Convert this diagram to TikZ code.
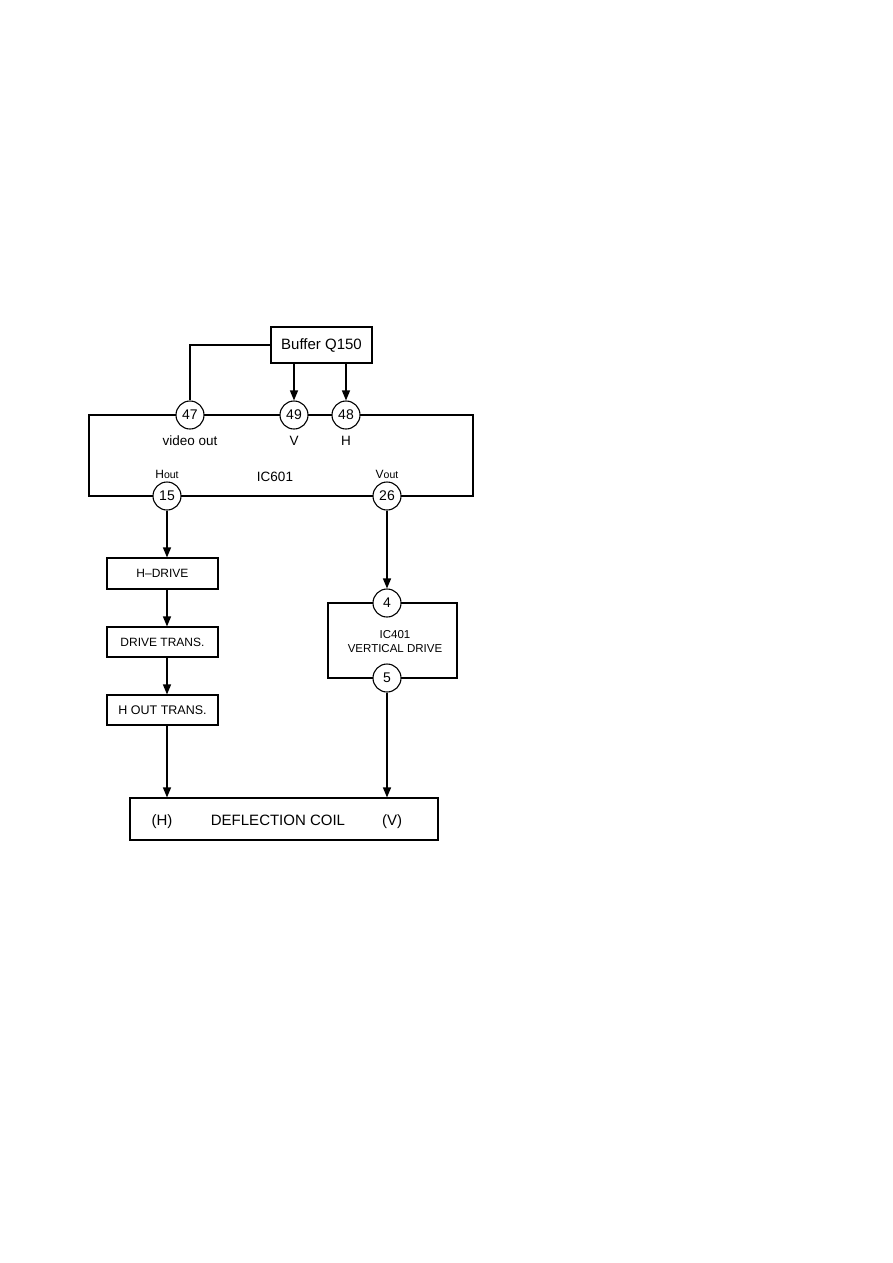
\documentclass[tikz,border=0pt]{standalone}
\usepackage{fontspec}
\setmainfont{Liberation Sans}
\usetikzlibrary{arrows.meta}
\begin{document}
\begin{tikzpicture}[x=1pt,y=-1pt,
  box/.style={draw,line width=1.1pt,inner sep=0pt},
  pin/.style={draw,circle,fill=white,line width=1.1pt,minimum size=28pt,inner sep=0pt,font=\fontsize{14}{14}\selectfont},
  lbl/.style={inner sep=0pt,font=\fontsize{13.5}{13.5}\selectfont},
  small/.style={inner sep=0pt,font=\fontsize{12}{12}\selectfont},
  big/.style={inner sep=0pt,anchor=base,font=\fontsize{15}{15}\selectfont},
  arr/.style={line width=1.3pt,-{Triangle[length=10pt,width=8pt]}},
  wire/.style={line width=1.1pt}]
\useasboundingbox (0,0) rectangle (893,1263);
% Buffer
\node[box,minimum width=101pt,minimum height=36pt,font=\fontsize{15}{15}\selectfont] (buf) at (321.5,345) {Buffer Q150};
% IC601
\node[box,minimum width=384pt,minimum height=81pt] (ic601) at (281,455.5) {};
\node[pin] (c47) at (190,415) {47};
\node[pin] (c49) at (294,415) {49};
\node[pin] (c48) at (346,415) {48};
\node[pin] (c15) at (167,496) {15};
\node[pin] (c26) at (387,496) {26};
\node[lbl] (lvid) at (190,441) {video out};
\node[lbl] (lv) at (294,441) {V};
\node[lbl] (lh) at (346,441) {H};
\node[small] (lhout) at (167,474) {H{\fontsize{10.5}{10.5}\selectfont out}};
\node[small] (lvout) at (387,474) {V{\fontsize{10.5}{10.5}\selectfont out}};
\node[inner sep=0pt,font=\fontsize{13.5}{13.5}\selectfont] (lic) at (275,477) {IC601};
\draw[wire] (buf.west) -| (c47.north);
\draw[arr] (buf.south -| c49) -- (c49.north);
\draw[arr] (buf.south -| c48) -- (c48.north);
% H chain
\node[box,minimum width=111pt,minimum height=31pt,font=\fontsize{12}{12}\selectfont] (hd) at (162.5,573.5) {H--DRIVE};
\node[box,minimum width=111pt,minimum height=30pt,font=\fontsize{12}{12}\selectfont] (dt) at (162.5,642) {DRIVE TRANS.};
\node[box,minimum width=111pt,minimum height=30pt,font=\fontsize{12.5}{12.5}\selectfont] (ho) at (162.5,710) {H OUT TRANS.};
\draw[arr] (c15.south) -- (c15.south |- hd.north);
\draw[arr] (c15.south |- hd.south) -- (c15.south |- dt.north);
\draw[arr] (c15.south |- dt.south) -- (c15.south |- ho.north);
% IC401
\node[box,minimum width=129pt,minimum height=75pt] (ic401) at (392.5,640.5) {};
\node[pin] (c4) at (387,603) {4};
\node[pin] (c5) at (387,678) {5};
\node[inner sep=0pt,align=center,font=\fontsize{11.5}{14}\selectfont] (l401) at (395,642) {IC401\\VERTICAL DRIVE};
\draw[arr] (c26.south) -- (c4.north);
% Deflection coil
\node[box,minimum width=308pt,minimum height=42pt] (dc) at (284,819) {};
\node[big] (dh) at (162,825.5) {(H)};
\node[big] (dtx) at (278,825.5) {DEFLECTION COIL};
\node[big] (dv) at (392,825.5) {(V)};
\draw[arr] (c15.south |- ho.south) -- (c15.south |- dc.north);
\draw[arr] (c5.south) -- (c5.south |- dc.north);
\end{tikzpicture}
\end{document}
